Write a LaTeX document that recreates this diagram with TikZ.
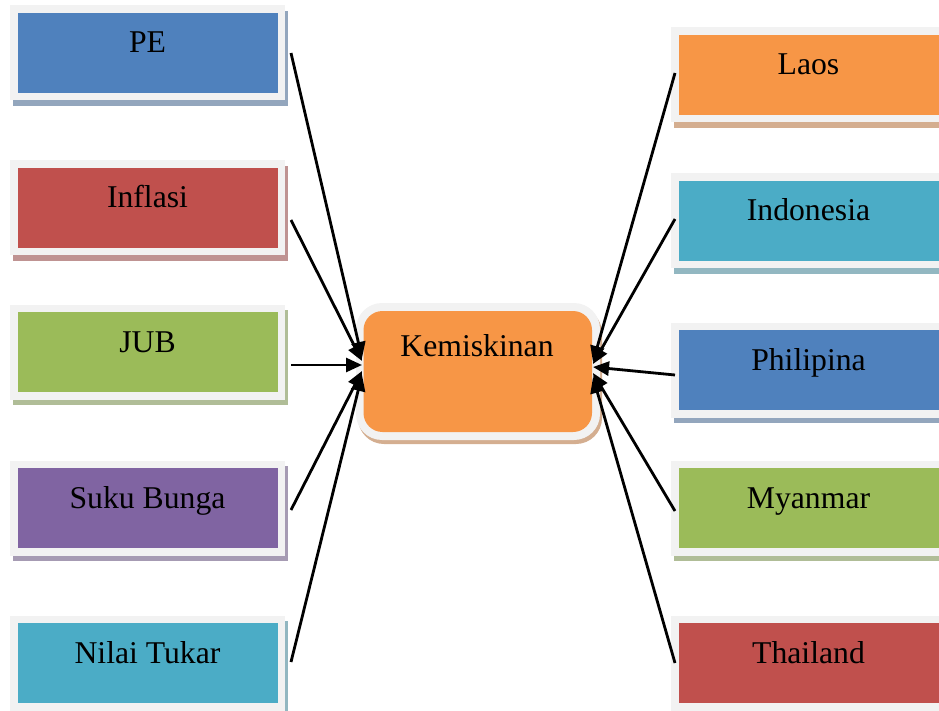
\documentclass[tikz,border=0pt]{standalone}
\usepackage{fontspec}
\setmainfont{Liberation Serif}
\newfontfamily\labelfont{Liberation Serif}
\usetikzlibrary{arrows.meta,shadows}

\definecolor{framegray}{HTML}{F2F2F2}
\definecolor{cblue}{HTML}{4F81BD}
\definecolor{cred}{HTML}{C0504D}
\definecolor{cgreen}{HTML}{9BBB59}
\definecolor{cpurple}{HTML}{8064A2}
\definecolor{caqua}{HTML}{4BACC6}
\definecolor{corange}{HTML}{F79646}

\tikzset{
  sidebox/.style={rectangle, minimum width=275pt, minimum height=95pt, inner sep=0pt,
    fill=framegray,
    drop shadow={shadow xshift=2.5pt, shadow yshift=-5.5pt, fill=#1!55!gray!70!white, opacity=1},
    path picture={\fill[#1] ([shift={(7.5pt,7.5pt)}]path picture bounding box.south west)
      rectangle ([shift={(-7.5pt,-7.5pt)}]path picture bounding box.north east);}},
  mainbox/.style={rectangle, rounded corners=26pt, minimum width=244pt, minimum height=137pt,
    inner sep=0pt, fill=framegray,
    drop shadow={shadow xshift=2pt, shadow yshift=-4pt, fill=#1!55!gray!70!white, opacity=1},
    path picture={\fill[#1, rounded corners=19pt] ([shift={(7.5pt,8pt)}]path picture bounding box.south west)
      rectangle ([shift={(-8pt,-8pt)}]path picture bounding box.north east);}},
  lbl/.style={anchor=base, inner sep=0pt, font=\labelfont\fontsize{31.7pt}{38pt}\selectfont},
  arr/.style={line width=2.8pt, -{Triangle[length=16pt,width=14pt]}},
}

\begin{document}
\begin{tikzpicture}[x=1pt,y=-1pt]
\path[use as bounding box, clip] (0,0) rectangle (939,711);

% factors on the left
\node[sidebox=cblue]   (pe)  at (147.5,53)  {};
\node[sidebox=cred]    (inf) at (147.5,208) {};
\node[sidebox=cgreen]  (jub) at (147.5,352) {};
\node[sidebox=cpurple] (sb)  at (147.5,508) {};
\node[sidebox=caqua]   (nt)  at (147.5,663) {};

\node[lbl] (pe-t)  at (pe.center)  {PE};
\node[lbl] (inf-t) at (inf.center) {Inflasi};
\node[lbl] (jub-t) at (jub.center) {JUB};
\node[lbl] (sb-t)  at (sb.center)  {Suku Bunga};
\node[lbl] (nt-t)  at (nt.center)  {Nilai Tukar};

% countries on the right
\node[sidebox=corange] (la) at (808.5,75)  {};
\node[sidebox=caqua]   (id) at (808.5,221) {};
\node[sidebox=cblue]   (ph) at (808.5,370) {};
\node[sidebox=cgreen]  (my) at (808.5,508) {};
\node[sidebox=cred]    (th) at (808.5,663) {};

\node[lbl] (la-t) at (la.center) {Laos};
\node[lbl] (id-t) at (id.center) {Indonesia};
\node[lbl] (ph-t) at (ph.center) {Philipina};
\node[lbl] (my-t) at (my.center) {Myanmar};
\node[lbl] (th-t) at (th.center) {Thailand};

% central box
\node[mainbox=corange] (km) at (478,371.5) {};
\node[lbl] (km-t) at (477,356) {Kemiskinan};

% connector ends
\coordinate (pe-o)  at (291,53);
\coordinate (inf-o) at (291,220);
\coordinate (jub-o) at (291,365);
\coordinate (sb-o)  at (291,510);
\coordinate (nt-o)  at (291,662);
\coordinate (la-o)  at (675,73);
\coordinate (id-o)  at (675,219);
\coordinate (ph-o)  at (675,375);
\coordinate (my-o)  at (675,511);
\coordinate (th-o)  at (675,663);

\coordinate (kw1) at (362,358);
\coordinate (kw2) at (362,361);
\coordinate (kw3) at (362,365);
\coordinate (kw4) at (362,371);
\coordinate (kw5) at (362,375);
\coordinate (ke1) at (593,362);
\coordinate (ke2) at (593,364);
\coordinate (ke3) at (593,367);
\coordinate (ke4) at (593,373);
\coordinate (ke5) at (593,377);

\draw[arr] (pe-o)  -- (kw1);
\draw[arr] (inf-o) -- (kw2);
\draw[arr] (jub-o) -- (kw3);
\draw[arr] (sb-o)  -- (kw4);
\draw[arr] (nt-o)  -- (kw5);
\draw[arr] (la-o)  -- (ke1);
\draw[arr] (id-o)  -- (ke2);
\draw[arr] (ph-o)  -- (ke3);
\draw[arr] (my-o)  -- (ke4);
\draw[arr] (th-o)  -- (ke5);
\end{tikzpicture}
\end{document}
